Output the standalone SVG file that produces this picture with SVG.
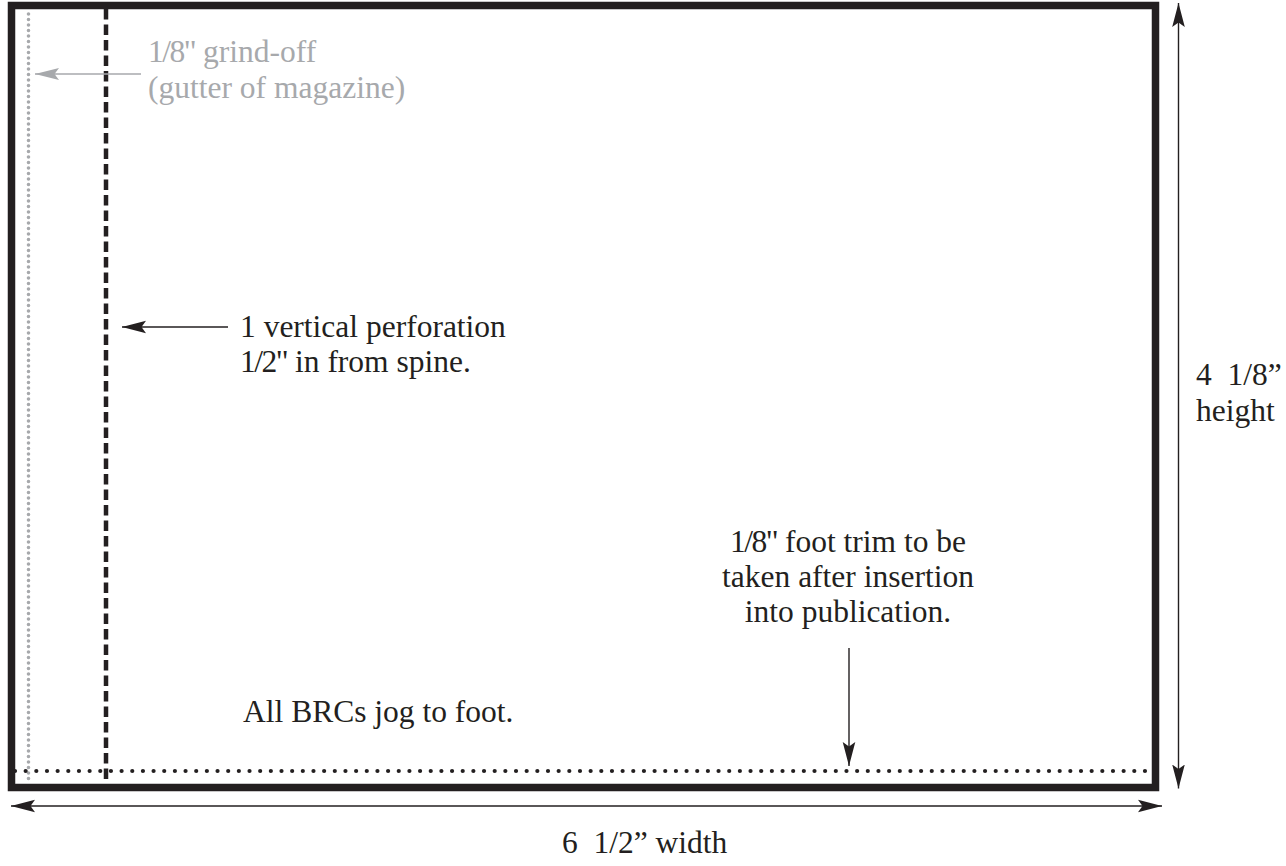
<svg xmlns="http://www.w3.org/2000/svg" width="1286" height="866" viewBox="0 0 1286 866">
<style>
text { font-family: "Liberation Serif", "Times New Roman", serif; font-size: 31.5px; fill: #231f20; }
text.gray { fill: #a7a9ac; }
tspan.frac { letter-spacing: -1.5px; }
.conn { stroke: #231f20; stroke-width: 1.4; fill: none; }
.conn-gray { stroke: #a7a9ac; stroke-width: 1.4; fill: none; }
.border { fill: none; stroke: #231f20; stroke-width: 7.5; }
.perf { stroke: #231f20; stroke-width: 4.5; stroke-dasharray: 10.5 5; fill: none; }
.grind { stroke: #a7a9ac; stroke-width: 3.6; stroke-dasharray: 0 5.5; stroke-linecap: round; fill: none; }
.trim { stroke: #231f20; stroke-width: 4.2; stroke-dasharray: 0 10.66; stroke-linecap: round; fill: none; }
</style>
<defs>
<marker id="arr" viewBox="0 -7 24 14" markerWidth="24" markerHeight="14" refX="24" refY="0" markerUnits="userSpaceOnUse" orient="auto-start-reverse">
<path d="M24,0 L0,-6.3 L4.5,0 L0,6.3 Z" fill="#231f20"/>
</marker>
<marker id="arrg" viewBox="0 -7 24 14" markerWidth="24" markerHeight="14" refX="24" refY="0" markerUnits="userSpaceOnUse" orient="auto-start-reverse">
<path d="M24,0 L0,-6 L4.5,0 L0,6 Z" fill="#a7a9ac"/>
</marker>
</defs>
<rect width="1286" height="866" fill="#ffffff"/>
<g id="card">
<line class="grind" x1="28.5" y1="14" x2="28.5" y2="782"/>
<line class="perf" x1="106" y1="9" x2="106" y2="784"/>
<line class="trim" x1="15" y1="771" x2="1146" y2="771"/>
<rect class="border" x="11.5" y="5.5" width="1144" height="782"/>
</g>
<g id="connectors">
<line class="conn-gray" x1="141" y1="74" x2="35" y2="74" marker-end="url(#arrg)"/>
<line class="conn" x1="228" y1="327" x2="122" y2="327" marker-end="url(#arr)"/>
<line class="conn" x1="849" y1="648" x2="849" y2="766" marker-end="url(#arr)"/>
<line class="conn" x1="1178.5" y1="3" x2="1178.5" y2="788.5" marker-start="url(#arr)" marker-end="url(#arr)"/>
<line class="conn" x1="11" y1="806" x2="1162" y2="806" marker-start="url(#arr)" marker-end="url(#arr)"/>
</g>
<g id="label-grind">
<text class="gray" x="148" y="62"><tspan class="frac">1/8"</tspan> grind-off</text>
<text class="gray" x="148" y="98">(gutter of magazine)</text>
</g>
<g id="label-perforation">
<text x="240" y="337">1 vertical perforation</text>
<text x="240" y="372"><tspan class="frac">1/2"</tspan> in from spine.</text>
</g>
<g id="label-height">
<text x="1196" y="385" xml:space="preserve">4  1/8”</text>
<text x="1196" y="421">height</text>
</g>
<g id="label-foot-trim">
<text x="848" y="552" text-anchor="middle"><tspan class="frac">1/8"</tspan> foot trim to be</text>
<text x="848" y="587" text-anchor="middle">taken after insertion</text>
<text x="848" y="622" text-anchor="middle">into publication.</text>
</g>
<g id="label-jog">
<text x="243" y="722">All BRCs jog to foot.</text>
</g>
<g id="label-width">
<text x="562" y="853" xml:space="preserve">6  1/2” width</text>
</g>
</svg>
